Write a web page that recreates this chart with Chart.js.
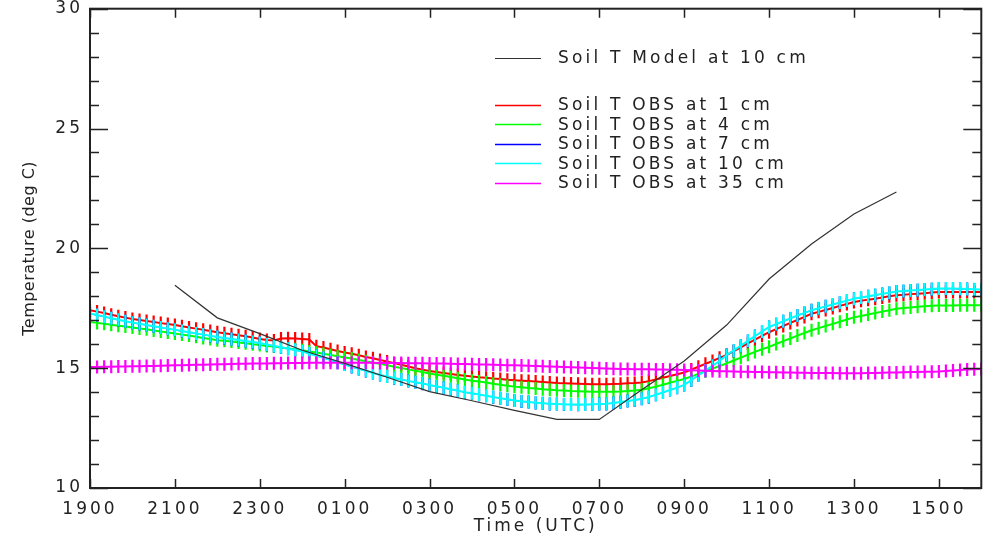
<!DOCTYPE html>
<html lang="en">
<head>
<meta charset="utf-8">
<title>Soil T</title>
<script src="https://cdn.jsdelivr.net/npm/chart.js@4.4.1/dist/chart.umd.min.js"></script>
<style>
  html,
  body {
    margin: 0;
    padding: 0;
    background: #fff;
  }
  #myChartSol {
    display: block;
  }
</style>
</head>
<body>
<canvas id="myChartSol" width="990" height="539"></canvas>
<script>
//? Axe X : heures écoulées depuis 1900 UTC.

const heuresTicks = [0, 2, 4, 6, 8, 10, 12, 14, 16, 18, 20];
const labelsTicks = ["1900", "2100", "2300", "0100", "0300", "0500", "0700", "0900", "1100", "1300", "1500"];

//? Axe Y : graduations majeures (avec label) et mineures.

const yMajeurs = [10, 15, 20, 25, 30];
const yMineurs = [11, 12, 13, 14, 16, 17, 18, 19, 21, 22, 23, 24, 26, 27, 28, 29];

//? Modèle : une valeur par heure, de 2100 à 1400.

const heuresModele = [2, 3, 4, 5, 6, 7, 8, 9, 10, 11, 12, 13, 14, 15, 16, 17, 18, 19];
const tempModele = [18.46, 17.10, 16.44, 15.75, 15.20, 14.62, 14.02, 13.64, 13.24, 12.86, 12.86, 14.10, 15.30, 16.80, 18.72, 20.18, 21.43, 22.35];

//? Observations : une mesure toutes les 10 minutes, de 1900 à 1600.

const pasObsMinutes = 10;

const tempObs1cm = [
  17.42, 17.36, 17.30, 17.23, 17.17, 17.11,
  17.05, 17.01, 16.97, 16.93, 16.88, 16.84,
  16.80, 16.75, 16.70, 16.65, 16.60, 16.55,
  16.50, 16.46, 16.42, 16.37, 16.33, 16.28,
  16.22, 16.18, 16.16, 16.24, 16.25, 16.24,
  16.22, 16.20, 15.92, 15.86, 15.79, 15.72,
  15.65, 15.60, 15.54, 15.47, 15.41, 15.34,
  15.28, 15.21, 15.14, 15.07, 15.00, 14.94,
  14.88, 14.84, 14.80, 14.76, 14.72, 14.68,
  14.65, 14.62, 14.60, 14.57, 14.55, 14.52,
  14.50, 14.48, 14.46, 14.44, 14.42, 14.40,
  14.38, 14.37, 14.36, 14.35, 14.34, 14.33,
  14.33, 14.33, 14.34, 14.35, 14.37, 14.38,
  14.40, 14.46, 14.53, 14.60, 14.67, 14.75,
  14.82, 14.94, 15.06, 15.18, 15.30, 15.43,
  15.55, 15.71, 15.87, 16.03, 16.19, 16.35,
  16.50, 16.63, 16.76, 16.89, 17.01, 17.14,
  17.27, 17.35, 17.43, 17.51, 17.60, 17.68,
  17.76, 17.81, 17.86, 17.90, 17.95, 18.00,
  18.04, 18.06, 18.09, 18.11, 18.13, 18.16,
  18.18, 18.18, 18.18, 18.18, 18.18, 18.18,
  18.18,
];

const tempObs4cm = [
  16.93, 16.89, 16.85, 16.81, 16.77, 16.74,
  16.70, 16.66, 16.62, 16.57, 16.53, 16.49,
  16.45, 16.40, 16.36, 16.31, 16.26, 16.22,
  16.17, 16.14, 16.11, 16.07, 16.04, 16.00,
  15.97, 15.93, 15.90, 15.86, 15.82, 15.79,
  15.75, 15.70, 15.65, 15.60, 15.55, 15.50,
  15.45, 15.40, 15.34, 15.29, 15.23, 15.18,
  15.12, 15.06, 15.01, 14.95, 14.89, 14.84,
  14.78, 14.73, 14.68, 14.63, 14.58, 14.53,
  14.48, 14.44, 14.40, 14.35, 14.31, 14.27,
  14.23, 14.20, 14.17, 14.15, 14.12, 14.10,
  14.08, 14.07, 14.05, 14.04, 14.03, 14.02,
  14.02, 14.02, 14.02, 14.03, 14.05, 14.07,
  14.10, 14.16, 14.23, 14.31, 14.39, 14.47,
  14.55, 14.65, 14.76, 14.87, 14.98, 15.09,
  15.20, 15.32, 15.44, 15.56, 15.68, 15.79,
  15.89, 16.01, 16.13, 16.24, 16.36, 16.47,
  16.58, 16.67, 16.76, 16.85, 16.94, 17.03,
  17.12, 17.18, 17.24, 17.30, 17.36, 17.42,
  17.48, 17.51, 17.53, 17.56, 17.58, 17.60,
  17.62, 17.62, 17.62, 17.63, 17.63, 17.63,
  17.63,
];

const tempObs7cm = [
  17.27, 17.21, 17.15, 17.08, 17.01, 16.96,
  16.90, 16.84, 16.80, 16.74, 16.70, 16.64,
  16.60, 16.54, 16.50, 16.44, 16.40, 16.34,
  16.30, 16.25, 16.22, 16.17, 16.13, 16.08,
  16.05, 15.98, 15.93, 15.86, 15.81, 15.75,
  15.70, 15.60, 15.52, 15.42, 15.34, 15.23,
  15.15, 15.05, 14.97, 14.88, 14.80, 14.71,
  14.65, 14.58, 14.53, 14.46, 14.41, 14.35,
  14.30, 14.23, 14.18, 14.11, 14.06, 13.99,
  13.95, 13.89, 13.85, 13.79, 13.75, 13.69,
  13.65, 13.61, 13.59, 13.55, 13.54, 13.51,
  13.50, 13.48, 13.48, 13.47, 13.48, 13.48,
  13.50, 13.51, 13.55, 13.58, 13.63, 13.66,
  13.72, 13.79, 13.89, 13.98, 14.09, 14.18,
  14.30, 14.49, 14.70, 14.89, 15.10, 15.29,
  15.55, 15.73, 15.94, 16.13, 16.34, 16.52,
  16.72, 16.83, 16.96, 17.07, 17.20, 17.30,
  17.42, 17.49, 17.58, 17.65, 17.74, 17.81,
  17.90, 17.94, 18.00, 18.04, 18.10, 18.14,
  18.20, 18.21, 18.24, 18.25, 18.28, 18.29,
  18.32, 18.31, 18.32, 18.30, 18.30, 18.28,
  18.28,
];

const tempObs10cm = [
  17.28, 17.22, 17.15, 17.08, 17.02, 16.96,
  16.90, 16.85, 16.80, 16.75, 16.70, 16.65,
  16.60, 16.55, 16.50, 16.45, 16.40, 16.35,
  16.30, 16.26, 16.22, 16.18, 16.13, 16.09,
  16.05, 15.99, 15.93, 15.87, 15.81, 15.76,
  15.70, 15.61, 15.52, 15.43, 15.34, 15.24,
  15.15, 15.06, 14.97, 14.89, 14.80, 14.72,
  14.65, 14.59, 14.53, 14.47, 14.41, 14.36,
  14.30, 14.24, 14.18, 14.12, 14.06, 14.00,
  13.95, 13.90, 13.85, 13.80, 13.75, 13.70,
  13.65, 13.62, 13.59, 13.56, 13.54, 13.52,
  13.50, 13.49, 13.48, 13.48, 13.48, 13.49,
  13.50, 13.52, 13.55, 13.59, 13.63, 13.67,
  13.72, 13.80, 13.89, 13.99, 14.09, 14.19,
  14.30, 14.50, 14.70, 14.90, 15.10, 15.30,
  15.55, 15.74, 15.94, 16.14, 16.34, 16.53,
  16.72, 16.84, 16.96, 17.08, 17.20, 17.31,
  17.42, 17.50, 17.58, 17.66, 17.74, 17.82,
  17.90, 17.95, 18.00, 18.05, 18.10, 18.15,
  18.20, 18.22, 18.24, 18.26, 18.28, 18.30,
  18.32, 18.32, 18.32, 18.31, 18.30, 18.29,
  18.28,
];

const tempObs35cm = [
  15.05, 15.05, 15.06, 15.06, 15.07, 15.07,
  15.08, 15.08, 15.09, 15.09, 15.10, 15.11,
  15.12, 15.12, 15.13, 15.14, 15.14, 15.15,
  15.16, 15.16, 15.17, 15.18, 15.18, 15.19,
  15.20, 15.20, 15.21, 15.21, 15.22, 15.22,
  15.22, 15.23, 15.23, 15.23, 15.23, 15.23,
  15.23, 15.23, 15.23, 15.23, 15.23, 15.22,
  15.22, 15.22, 15.22, 15.21, 15.21, 15.21,
  15.20, 15.19, 15.19, 15.18, 15.17, 15.17,
  15.16, 15.15, 15.15, 15.14, 15.13, 15.12,
  15.12, 15.11, 15.10, 15.09, 15.08, 15.07,
  15.06, 15.05, 15.04, 15.03, 15.02, 15.01,
  15.00, 14.99, 14.98, 14.97, 14.97, 14.96,
  14.95, 14.95, 14.94, 14.94, 14.93, 14.93,
  14.92, 14.91, 14.90, 14.89, 14.88, 14.87,
  14.87, 14.86, 14.85, 14.85, 14.84, 14.84,
  14.83, 14.83, 14.82, 14.82, 14.81, 14.81,
  14.80, 14.80, 14.80, 14.80, 14.79, 14.79,
  14.79, 14.79, 14.80, 14.80, 14.81, 14.82,
  14.82, 14.83, 14.84, 14.84, 14.85, 14.85,
  14.86, 14.88, 14.90, 14.92, 14.94, 14.95,
  14.97,
];

//? -------------------------------------------------

//? Mise en forme des séries en points {x, y}.

const versPoints = (heures, valeurs) => valeurs.map((v, i) => ({ x: heures[i], y: v }));

const heuresObs = tempObs1cm.map((_, i) => (i * pasObsMinutes) / 60);

//? Style commun des courbes observées : ligne + croix verticales.

const serieObs = (label, valeurs, couleur, ordre, epaisseur = 2) => ({
  label,
  data: versPoints(heuresObs, valeurs),
  borderColor: couleur,
  backgroundColor: couleur,
  borderWidth: epaisseur,
  pointStyle: "line",
  rotation: 90,
  pointRadius: 6.5,
  pointBorderWidth: 2.2,
  pointBorderColor: couleur,
  order: ordre,
});

//? -------------------------------------------------

//? Plugin : cadre + graduations vers l'intérieur (style IDL).

const cadreEtTicks = {
  id: "cadreEtTicks",
  beforeDraw(chart) {
    chart.ctx.letterSpacing = "3px";
  },
  afterDatasetsDraw(chart) {
    const { ctx, chartArea, scales } = chart;
    const { left, right, top, bottom } = chartArea;
    const { x, y } = scales;

    ctx.save();
    ctx.strokeStyle = "#222";
    ctx.lineWidth = 1.5;
    ctx.beginPath();

    heuresTicks.forEach((h) => {
      const px = Math.round(x.getPixelForValue(h)) + 0.5;
      ctx.moveTo(px, bottom);
      ctx.lineTo(px, bottom - 9);
      ctx.moveTo(px, top);
      ctx.lineTo(px, top + 9);
    });

    [...yMajeurs, ...yMineurs].forEach((v) => {
      const py = Math.round(y.getPixelForValue(v)) + 0.5;
      const longueur = yMajeurs.includes(v) ? 18 : 9;
      ctx.moveTo(left, py);
      ctx.lineTo(left + longueur, py);
      ctx.moveTo(right, py);
      ctx.lineTo(right - longueur, py);
    });
    ctx.stroke();

    ctx.lineWidth = 2;
    ctx.strokeRect(left, top, right - left, bottom - top);
    ctx.restore();
  },
};

//? Plugin : légende dans le graphique + titre de l'axe Y.

const legendeInterne = {
  id: "legendeInterne",
  afterDraw(chart) {
    const { ctx, chartArea } = chart;
    const { left, top, bottom } = chartArea;
    const xLigne = left + 405;
    const xTexte = left + 468;

    const lignes = [
      { ds: chart.data.datasets[0], y: top + 49 },
      ...chart.data.datasets.slice(1).map((ds, i) => ({ ds, y: top + 96 + i * 19.5 })),
    ];

    ctx.save();
    ctx.font = "17px 'DejaVu Sans'";
    ctx.letterSpacing = "3.2px";
    ctx.fillStyle = "#222";
    ctx.textBaseline = "middle";
    ctx.textAlign = "left";

    lignes.forEach(({ ds, y }) => {
      ctx.strokeStyle = ds.borderColor;
      ctx.lineWidth = ds === chart.data.datasets[0] ? 1.2 : 1.5;
      ctx.beginPath();
      ctx.moveTo(xLigne, Math.round(y) + 0.5);
      ctx.lineTo(xLigne + 46, Math.round(y) + 0.5);
      ctx.stroke();
      ctx.fillText(ds.label, xTexte, y + 1);
    });

    //? Titre vertical de l'axe Y.
    ctx.font = "16px 'DejaVu Sans'";
    ctx.letterSpacing = "0.5px";
    ctx.textAlign = "center";
    ctx.translate(30, (top + bottom) / 2);
    ctx.rotate(-Math.PI / 2);
    ctx.fillText("Temperature (deg C)", 0, 0);
    ctx.restore();
  },
};

//? -------------------------------------------------

//? Construction du graphique températures du sol.

const constructionDuGraphique = () => {
  try {
    const ctxSol = document.getElementById("myChartSol").getContext("2d");

    Chart.defaults.font.family = "'DejaVu Sans'";
    Chart.defaults.font.size = 17;
    Chart.defaults.color = "#222";

    const data = {
      datasets: [
        //? Courbe modèle.
        {
          label: "Soil T Model at 10 cm",
          data: versPoints(heuresModele, tempModele),
          borderColor: "#333",
          borderWidth: 1.2,
          pointRadius: 0,
          order: -1,
        },
        serieObs("Soil T OBS at 1 cm", tempObs1cm, "#ff0000", 5),
        serieObs("Soil T OBS at 4 cm", tempObs4cm, "#00ff00", 4),
        serieObs("Soil T OBS at 7 cm", tempObs7cm, "#0000ff", 3, 1),
        serieObs("Soil T OBS at 10 cm", tempObs10cm, "#00ffff", 2),
        serieObs("Soil T OBS at 35 cm", tempObs35cm, "#ff00ff", 0),
      ],
    };

    const optionsSol = {
      responsive: false,
      animation: false,
      events: [],
      layout: { padding: { left: 0, right: 2, top: 8, bottom: 0 } },
      plugins: {
        legend: { display: false },
        tooltip: { enabled: false },
      },
      scales: {
        x: {
          type: "linear",
          min: 0,
          max: 21,
          grid: { display: false, drawTicks: false },
          border: { display: false },
          afterBuildTicks: (scale) => {
            scale.ticks = heuresTicks.map((v) => ({ value: v }));
          },
          afterFit: (scale) => {
            scale.height = 51;
            scale.paddingLeft = 0;
            scale.paddingRight = 0;
          },
          ticks: {
            padding: 11,
            maxRotation: 0,
            autoSkip: false,
            callback: (v) => labelsTicks[heuresTicks.indexOf(v)],
          },
          title: {
            display: true,
            text: "Time (UTC)",
            padding: { top: 0, bottom: 2 },
          },
        },
        y: {
          min: 10,
          max: 30,
          grid: { display: false, drawTicks: false },
          border: { display: false },
          afterBuildTicks: (scale) => {
            scale.ticks = yMajeurs.map((v) => ({ value: v }));
          },
          afterFit: (scale) => {
            scale.width = 90;
            scale.paddingTop = 0;
            scale.paddingBottom = 0;
          },
          ticks: { padding: 7 },
        },
      },
    };

    new Chart(ctxSol, {
      type: "line",
      data,
      options: optionsSol,
      plugins: [cadreEtTicks, legendeInterne],
    });
  } catch (error) {
    console.log("🔴 ERREUR | Construction graphique :", error);
  }
};

constructionDuGraphique();
</script>
</body>
</html>
